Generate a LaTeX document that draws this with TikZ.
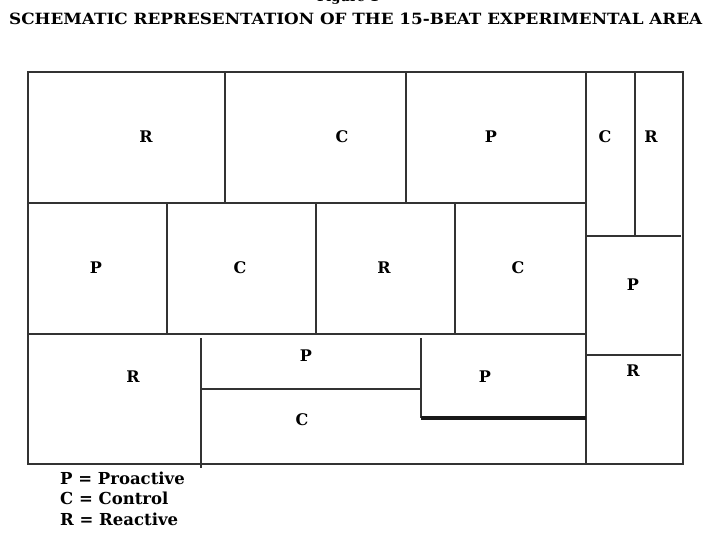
\documentclass[tikz,border=0pt]{standalone}
\usepackage{fontspec}
\setmainfont{DejaVu Serif}
\begin{document}
\begin{tikzpicture}[x=1pt,y=-1pt,
  wall/.style={draw=black!80,line width=1.7pt},
  thick wall/.style={draw=black!90,line width=3.2pt},
  lbl/.style={font=\bfseries\fontsize{16}{18}\selectfont,inner sep=0pt},
  legend/.style={font=\bfseries\fontsize{16.5}{19}\selectfont,inner sep=0pt,anchor=west,align=left}]
\useasboundingbox (0,0) rectangle (703,541);
% title
\node[inner sep=0pt,anchor=south] (fig) at (348,5) {\resizebox{62pt}{!}{\bfseries Figure 1}};
\node[inner sep=0pt,anchor=west] (title) at (9,18.5) {\resizebox{693pt}{11.5pt}{\bfseries SCHEMATIC REPRESENTATION OF THE 15-BEAT EXPERIMENTAL AREA}};
% outer frame
\draw[wall] (28,72) rectangle (683,464);
% top row
\draw[wall] (225,72) -- (225,203);
\draw[wall] (406,72) -- (406,203);
\draw[wall] (586,72) -- (586,464);
\draw[wall] (635,72) -- (635,236);
\draw[wall] (586,236) -- (681,236);
\draw[wall] (586,355) -- (681,355);
% row separators
\draw[wall] (28,203) -- (586,203);
\draw[wall] (28,334) -- (586,334);
% middle row
\draw[wall] (167,203) -- (167,334);
\draw[wall] (316,203) -- (316,334);
\draw[wall] (455,203) -- (455,334);
% bottom row
\draw[wall] (201,338) -- (201,468);
\draw[wall] (201,389) -- (421,389);
\draw[wall] (421,338) -- (421,418);
\draw[thick wall] (421,418) -- (586,418);
% labels
\node[lbl] (r1) at (146,137) {R};
\node[lbl] (c1) at (342,137) {C};
\node[lbl] (p1) at (491,137) {P};
\node[lbl] (c2) at (605,137) {C};
\node[lbl] (r2) at (651,137) {R};
\node[lbl] (p2) at (96,268) {P};
\node[lbl] (c3) at (240,268) {C};
\node[lbl] (r3) at (384,268) {R};
\node[lbl] (c4) at (518,268) {C};
\node[lbl] (p3) at (633,285) {P};
\node[lbl] (r4) at (133,377) {R};
\node[lbl] (p4) at (306,356) {P};
\node[lbl] (c5) at (302,420) {C};
\node[lbl] (p5) at (485,377) {P};
\node[lbl] (r5) at (633,371) {R};
% legend
\node[legend] (lp) at (60,478) {P = Proactive};
\node[legend] (lc) at (60,498.5) {C = Control};
\node[legend] (lr) at (60,519) {R = Reactive};
\end{tikzpicture}
\end{document}
